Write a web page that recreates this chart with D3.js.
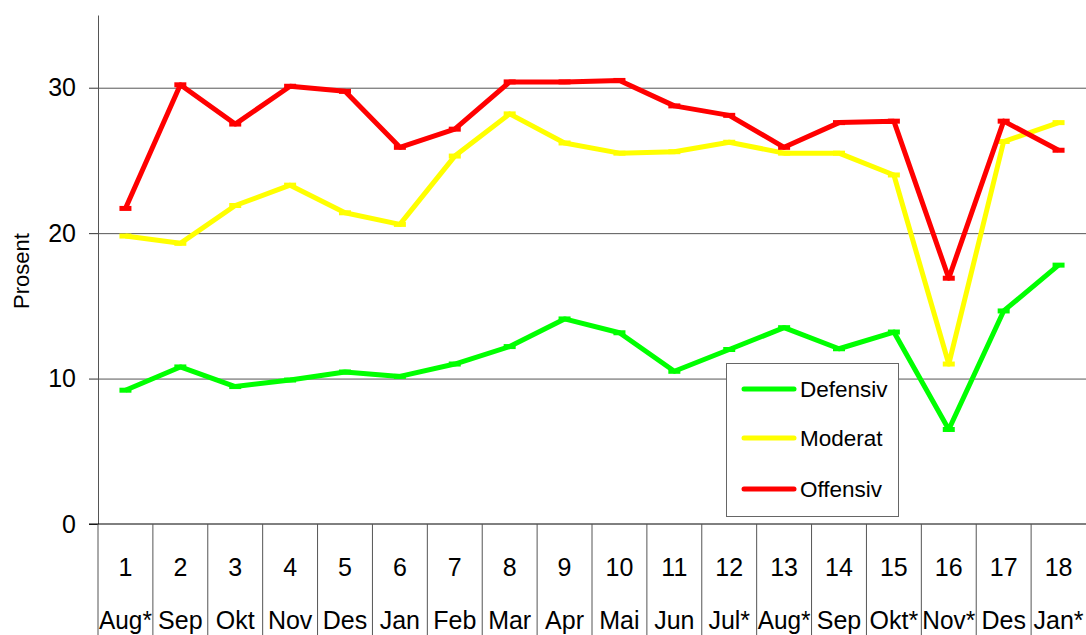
<!DOCTYPE html>
<html>
<head>
<meta charset="utf-8">
<script src="https://cdn.jsdelivr.net/npm/d3@7"></script>
<style>
  html, body { margin: 0; padding: 0; background: #fff; }
  svg { display: block; font-family: 'Liberation Sans', Arial, sans-serif; }
</style>
</head>
<body>
<svg id="chart" width="1086" height="635"></svg>
<script>
const periods = ['1', '2', '3', '4', '5', '6', '7', '8', '9', '10', '11', '12', '13', '14', '15', '16', '17', '18']
const months = ['Aug*', 'Sep', 'Okt', 'Nov', 'Des', 'Jan', 'Feb', 'Mar', 'Apr', 'Mai', 'Jun', 'Jul*', 'Aug*', 'Sep', 'Okt*', 'Nov*', 'Des', 'Jan*']

const defensiv = [9.2, 10.8, 9.45, 9.9, 10.45, 10.15, 11.0, 12.2, 14.1, 13.15, 10.5, 12.0, 13.5, 12.05, 13.2, 6.5, 14.65, 17.8]
const moderat = [19.8, 19.3, 21.9, 23.3, 21.4, 20.6, 25.3, 28.2, 26.2, 25.5, 25.6, 26.25, 25.5, 25.5, 24.0, 11.0, 26.3, 27.6]
const offensiv = [21.7, 30.2, 27.5, 30.1, 29.75, 25.9, 27.15, 30.4, 30.4, 30.5, 28.75, 28.1, 25.9, 27.6, 27.7, 16.9, 27.7, 25.7]

const seriesNames = ['Defensiv', 'Moderat', 'Offensiv']
const seriesValues = [defensiv, moderat, offensiv]
const seriesColors = ['#00ff00', '#ffff00', '#ff0000']

const yTicks = [0, 10, 20, 30]

const svg = d3.select('#chart')
const plotLeft = 98
const plotRight = 1086
const plotTop = 15
const plotBottom = 524

const x = d3.scaleBand().domain(periods).range([plotLeft, plotRight]).paddingInner(0).paddingOuter(0)
const y = d3.scaleLinear().domain([0, 35]).range([plotBottom, plotTop])

// gridlines
svg.append('g')
  .attr('transform', `translate(${plotLeft},0)`)
  .call(d3.axisLeft(y).tickValues(yTicks.filter((d) => d > 0)).tickSize(-(plotRight - plotLeft)).tickFormat(''))
  .call((g) => g.select('.domain').remove())
  .call((g) => g.selectAll('line').attr('stroke', '#555').attr('stroke-width', 1))

// y axis
const yAxis = svg.append('g')
  .attr('transform', `translate(${plotLeft},0)`)
  .call(d3.axisLeft(y).tickValues(yTicks).tickSize(9).tickPadding(13).tickSizeOuter(0))
yAxis.select('.domain').attr('stroke', '#555')
yAxis.selectAll('line').attr('stroke', '#333')
yAxis.selectAll('text')
  .attr('font-size', 25)
  .attr('font-family', 'Liberation Sans, Arial, sans-serif')
  .attr('fill', '#000')

svg.append('text')
  .attr('transform', `translate(29,271) rotate(-90)`)
  .attr('text-anchor', 'middle')
  .attr('font-size', 22)
  .text('Prosent')

// category table below axis
svg.append('line')
  .attr('x1', plotLeft - 9).attr('x2', plotRight)
  .attr('y1', plotBottom).attr('y2', plotBottom)
  .attr('stroke', '#000')

svg.append('g')
  .selectAll('line')
  .data(periods)
  .join('line')
  .attr('x1', (d) => x(d))
  .attr('x2', (d) => x(d))
  .attr('y1', plotBottom)
  .attr('y2', 635)
  .attr('stroke', '#555')

svg.append('g')
  .selectAll('text')
  .data(periods)
  .join('text')
  .attr('x', (d) => x(d) + x.bandwidth() / 2)
  .attr('y', 576)
  .attr('text-anchor', 'middle')
  .attr('font-size', 25)
  .text((d) => d)

svg.append('g')
  .selectAll('text')
  .data(months)
  .join('text')
  .attr('x', (d, i) => x(periods[i]) + x.bandwidth() / 2)
  .attr('y', 629)
  .attr('text-anchor', 'middle')
  .attr('font-size', 25)
  .text((d) => d)
  .each(function () {
    const w = this.getComputedTextLength()
    const max = x.bandwidth() - 2
    if (w > max) {
      d3.select(this).attr('textLength', max).attr('lengthAdjust', 'spacingAndGlyphs')
    }
  })

// lines
const line = d3.line()
  .x((d, i) => x(periods[i]) + x.bandwidth() / 2)
  .y((d) => y(d))

seriesValues.forEach((vals, s) => {
  svg.append('path')
    .datum(vals)
    .attr('d', line)
    .attr('fill', 'none')
    .attr('stroke', seriesColors[s])
    .attr('stroke-width', 5)
    .attr('stroke-linejoin', 'round')

  svg.append('g')
    .selectAll('line')
    .data(vals)
    .join('line')
    .attr('x1', (d, i) => x(periods[i]) + x.bandwidth() / 2 - 6)
    .attr('x2', (d, i) => x(periods[i]) + x.bandwidth() / 2 + 6)
    .attr('y1', (d) => y(d))
    .attr('y2', (d) => y(d))
    .attr('stroke', seriesColors[s])
    .attr('stroke-width', 5)
})

// legend
const legend = svg.append('g')
legend.append('rect')
  .attr('x', 726.5).attr('y', 363.5)
  .attr('width', 172).attr('height', 153)
  .attr('fill', '#fff')
  .attr('stroke', '#666')

const rows = [389, 438, 489]
seriesNames.forEach((name, s) => {
  legend.append('line')
    .attr('x1', 744).attr('x2', 794)
    .attr('y1', rows[s]).attr('y2', rows[s])
    .attr('stroke', seriesColors[s])
    .attr('stroke-width', 5)
    .attr('stroke-linecap', 'round')
  legend.append('text')
    .attr('x', 800)
    .attr('y', rows[s] + 8)
    .attr('font-size', 22.5)
    .text(name)
})
</script>
</body>
</html>
